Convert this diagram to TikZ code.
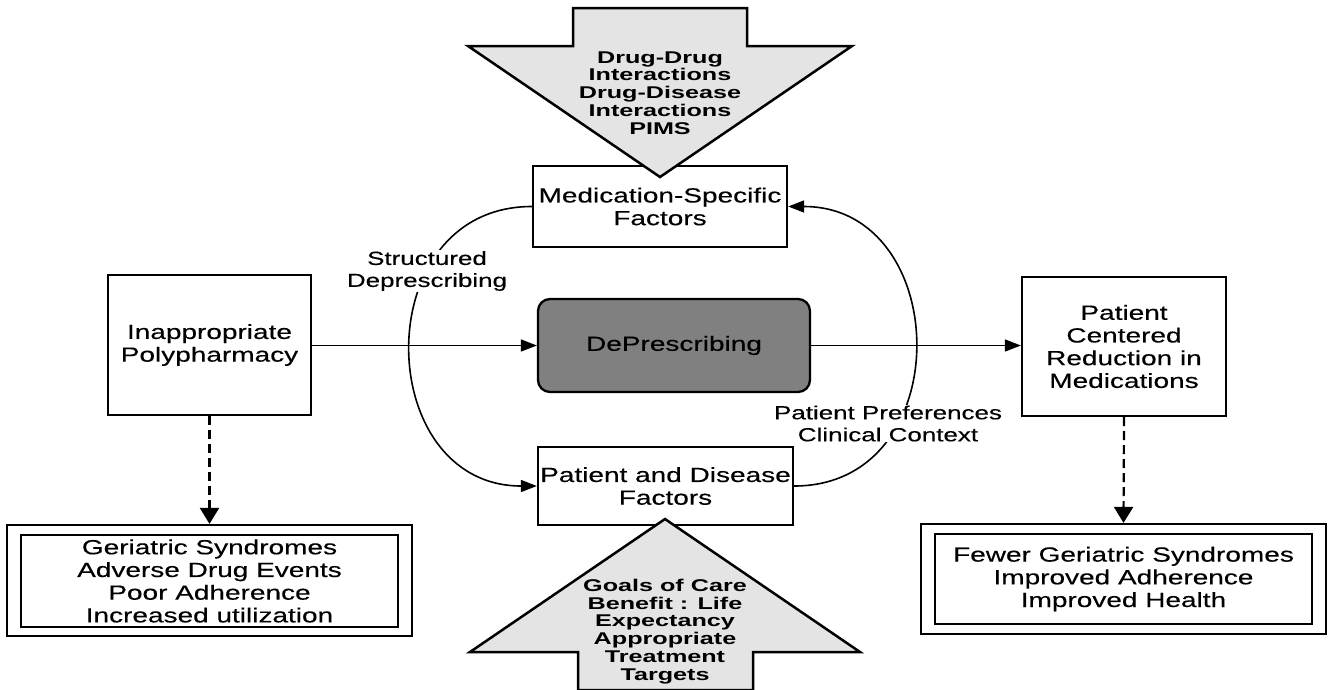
\documentclass[tikz,border=0pt]{standalone}
\usepackage{fontspec}
\setmainfont{Liberation Sans}[FakeStretch=1.366, FakeBold=0.3]
\newfontfamily\boldf{Liberation Sans}[FakeStretch=1.48]
\usetikzlibrary{arrows.meta,calc}
\definecolor{arrowgray}{HTML}{E4E4E4}
\definecolor{depgray}{HTML}{808080}
\begin{document}
\begin{tikzpicture}[x=1pt,y=-1pt,
  box/.style={draw, line width=2.3pt, inner sep=0pt, align=center,
    font=\fontsize{20.5}{22.7}\selectfont},
  outerbox/.style={draw, line width=2.2pt, inner sep=0pt},
  innerbox/.style={draw, line width=2.8pt, inner sep=0pt, align=center,
    font=\fontsize{20.5}{22.7}\selectfont},
  lbl/.style={fill=white, inner sep=1pt, align=center,
    font=\fontsize{19}{22}\selectfont},
  bigarrow/.style={draw, line width=2.5pt, fill=arrowgray, line join=miter},
  bigtext/.style={align=center, inner sep=0pt,
    font=\boldf\bfseries\fontsize{17}{17.8}\selectfont},
  conn/.style={line width=1.6pt, -{Triangle[length=16pt,width=12pt]}},
  dconn/.style={line width=2.2pt, dash pattern=on 9pt off 5pt,
    -{Triangle[length=16pt,width=19pt]}},
]
\useasboundingbox (0,0) rectangle (1329,689);

% boxes
\node[box, minimum width=254pt, minimum height=81pt] (med) at (660,206.5) {Medication-Specific\\Factors};
\node[box, draw, fill=depgray, rounded corners=12pt, minimum width=272pt, minimum height=93pt] (dep) at (674,345.5) {DePrescribing};
\node[box, minimum width=255pt, minimum height=78pt] (pat) at (665.5,486) {Patient and Disease\\Factors};
\node[box, minimum width=203pt, minimum height=140pt] (inapp) at (209.5,345) {Inappropriate\\Polypharmacy};
\node[box, minimum width=204pt, minimum height=139pt] (pcr) at (1124,346.5) {Patient\\Centered\\Reduction in\\Medications};

\node[outerbox, minimum width=405pt, minimum height=111pt] (lout) at (209.5,580.5) {};
\node[innerbox, minimum width=377pt, minimum height=92pt] (lin) at (209.5,581) {Geriatric Syndromes\\Adverse Drug Events\\Poor Adherence\\Increased utilization};
\node[outerbox, minimum width=405pt, minimum height=110pt] (rout) at (1123.5,579) {};
\node[innerbox, minimum width=377pt, minimum height=90pt] (rin) at (1123.5,579) {Fewer Geriatric Syndromes\\Improved Adherence\\Improved Health};

% curves
\draw[conn] (med.west) .. controls ($(med.west)+(-165,0)$) and ($(pat.west)+(-165,0)$) .. (pat.west);
\draw[conn] (pat.east) .. controls ($(pat.east)+(165,0)$) and ($(med.east)+(165,0)$) .. (med.east);
\node[lbl] (sd) at (427,271) {Structured\\Deprescribing};
\node[lbl] (ppcc) at (888,423.5) {Patient Preferences\\Clinical Context};

% straight connectors
\draw[conn] (inapp.east |- dep.west) -- (dep.west);
\draw[conn] (dep.east) -- (pcr.west |- dep.east);
\draw[dconn] (inapp.south) -- (lout.north);
\draw[dconn] (pcr.south) -- (rout.north);

% big arrows
\draw[bigarrow] (573,8) -- (747,8) -- (747,46) -- (852,46) -- (660,177) -- (468,46) -- (573,46) -- cycle;
\node[bigtext] (toptext) at (660,93) {Drug-Drug\\Interactions\\Drug-Disease\\Interactions\\PIMS};
\draw[bigarrow] (665,519) -- (860,652) -- (753,652) -- (753,690) -- (578,690) -- (578,652) -- (470,652) -- cycle;
\node[bigtext] (bottext) at (665,631.5) {Goals of Care\\Benefit : Life\\Expectancy\\Appropriate\\Treatment\\Targets};
\end{tikzpicture}
\end{document}
